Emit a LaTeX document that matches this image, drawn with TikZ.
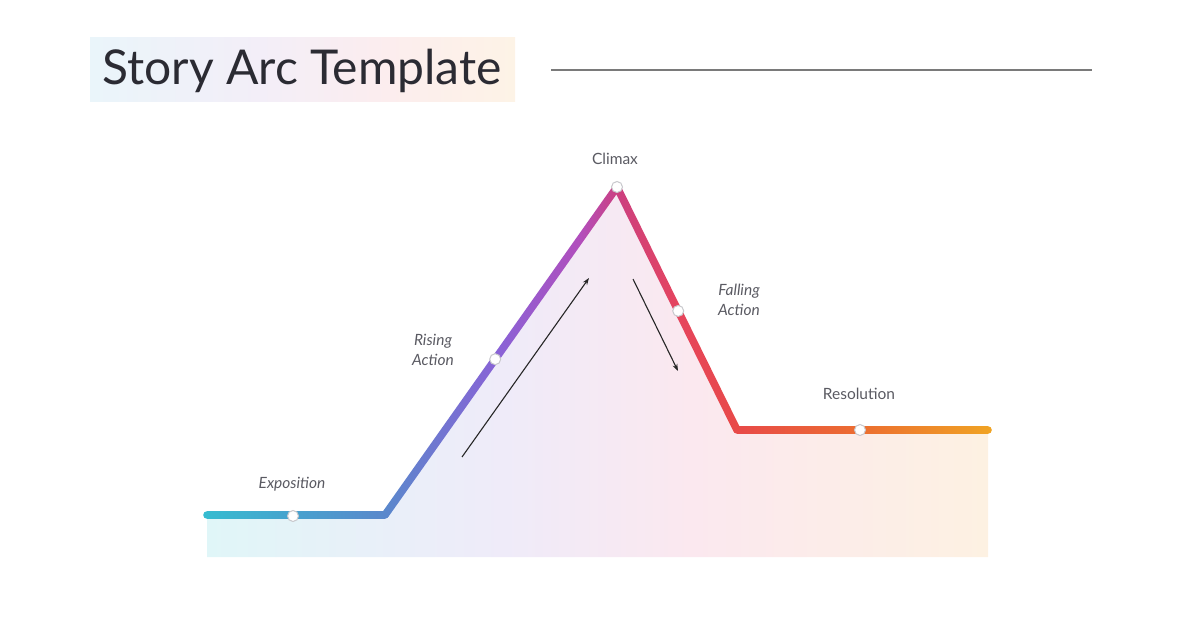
\documentclass[tikz,border=0pt]{standalone}
\usepackage{fontspec}
\setmainfont{Lato}
\usepackage{xcolor}
\usetikzlibrary{calc,arrows.meta}

\definecolor{titleink}{HTML}{2B2B33}
\definecolor{labelink}{HTML}{5A5A62}
\definecolor{ruleink}{HTML}{7A7A7A}
\definecolor{dotring}{HTML}{C8C8CC}
\definecolor{arcA}{HTML}{35BCD0}
\definecolor{arcB}{HTML}{5A88CC}
\definecolor{arcC}{HTML}{8A62D6}
\definecolor{arcD}{HTML}{B24EBC}
\definecolor{arcE}{HTML}{CC4080}
\definecolor{arcF}{HTML}{E6455C}
\definecolor{arcG}{HTML}{E84A48}
\definecolor{arcH}{HTML}{EC6E30}
\definecolor{arcI}{HTML}{F0A424}
\definecolor{areaA}{HTML}{E0F6F8}
\definecolor{areaB}{HTML}{EFEBF9}
\definecolor{areaC}{HTML}{FBE8EF}
\definecolor{areaD}{HTML}{FDF1E2}
\definecolor{boxA}{HTML}{EAF5FA}
\definecolor{boxB}{HTML}{F3EEF8}
\definecolor{boxC}{HTML}{FCEDEE}
\definecolor{boxD}{HTML}{FDF3E6}

% stops between 25bp and 75bp cover the shaded path
\pgfdeclarehorizontalshading{arcline}{100bp}{color(0bp)=(arcA); color(25bp)=(arcA);
  color(36.5bp)=(arcB); color(43.8bp)=(arcC); color(48.9bp)=(arcD); color(51.3bp)=(arcE);
  color(55.3bp)=(arcF); color(58.9bp)=(arcG); color(66.7bp)=(arcH); color(75bp)=(arcI); color(100bp)=(arcI)}
\pgfdeclarehorizontalshading{arcarea}{100bp}{color(0bp)=(areaA); color(25bp)=(areaA);
  color(44bp)=(areaB); color(56bp)=(areaC); color(75bp)=(areaD); color(100bp)=(areaD)}
\pgfdeclarehorizontalshading{titlebox}{100bp}{color(0bp)=(boxA); color(25bp)=(boxA);
  color(45bp)=(boxB); color(60bp)=(boxC); color(75bp)=(boxD); color(100bp)=(boxD)}

\tikzset{
  stagelabel/.style={text=labelink,font=\fontsize{15.5}{20}\selectfont\itshape,align=center},
  plainlabel/.style={stagelabel,font=\fontsize{15.5}{20}\selectfont},
  stagedot/.style={circle,draw=dotring,fill=white,line width=1pt,inner sep=0pt,minimum size=11pt},
  hint/.style={-{Stealth[length=7pt,width=5pt]},line width=1.1pt,black!85}
}

\begin{document}
\begin{tikzpicture}[x=1pt,y=-1pt]
        \useasboundingbox (0,0) rectangle (1196,628);

        % title
        \shade[shading=titlebox] (90,38) rectangle (515,102);
        \node[text=titleink,font=\fontsize{48}{54}\selectfont] (title) at (302,71) {Story Arc Template};
        \draw[ruleink,line width=2.4pt] (551,70) coordinate (ruleL) -- (1092,70) coordinate (ruleR);

        % arc corners
        \coordinate (A) at (207,515);
        \coordinate (B) at (385,515);
        \coordinate (C) at (617,187);
        \coordinate (D) at (737,430);
        \coordinate (E) at (988,430);

        % area under the arc
        \shade[shading=arcarea] (A) -- (B) -- (C) -- (D) -- (E) -- (E |- 0,557) -- (A |- 0,557) -- cycle;

        % the arc line
        \begin{scope}
            \clip \foreach \a/\b in {A/B,B/C,C/D,D/E}{
                ($(\a)!3.8pt!90:(\b)$) -- ($(\b)!3.8pt!-90:(\a)$) -- ($(\b)!3.8pt!90:(\a)$) -- ($(\a)!3.8pt!-90:(\b)$) -- cycle};
            \shade[shading=arcline] (203,180) rectangle (992,520);
        \end{scope}
        \begin{scope}
            \clip (A) circle (3.8) (B) circle (3.8) (C) circle (3.8) (D) circle (3.8) (E) circle (3.8);
            \shade[shading=arcline] (203,180) rectangle (992,520);
        \end{scope}

        % stage markers
        \node[stagedot] (expo) at (293,516) {};
        \node[stagedot] (rise) at ($(B)!0.475!(C)$) {};
        \node[stagedot] (peak) at (C) {};
        \node[stagedot] (fall) at ($(C)!0.51!(D)$) {};
        \node[stagedot] (reso) at (860,430) {};

        \node[stagelabel] at (292,484) {Exposition};
        \node[stagelabel] at (433,350) {Rising\\Action};
        \node[plainlabel] at (615,159) {Climax};
        \node[stagelabel] at (739,300) {Falling\\Action};
        \node[plainlabel] at (859,394) {Resolution};

        % direction hints
        \coordinate (up0) at (462,457);
        \coordinate (up1) at (589,278);
        \coordinate (dn0) at (633,279);
        \coordinate (dn1) at (678,371);
        \draw[hint] (up0) -- (up1);
        \draw[hint] (dn0) -- (dn1);
\end{tikzpicture}
\end{document}
